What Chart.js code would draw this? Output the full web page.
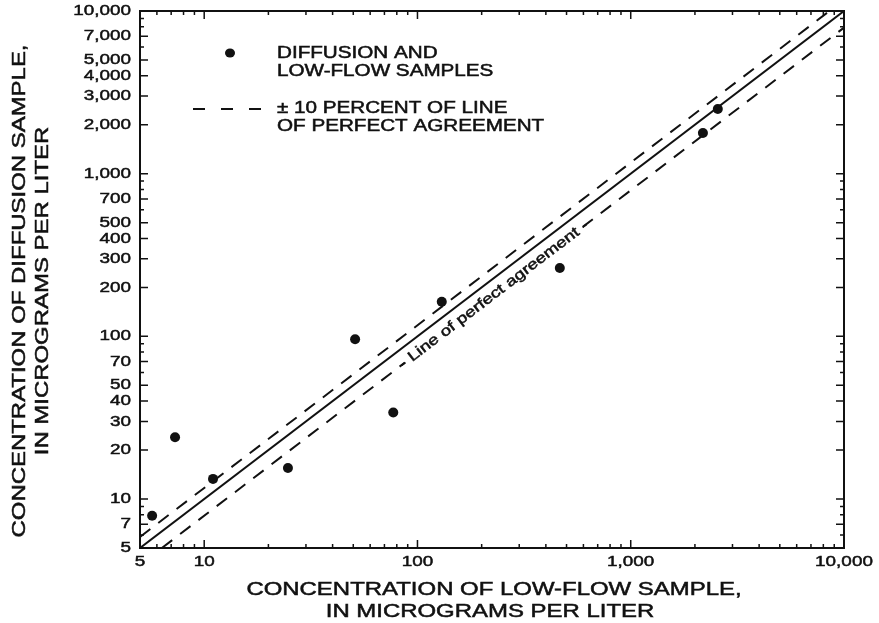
<!DOCTYPE html>
<html>
<head>
<meta charset="utf-8">
<script src="https://cdn.jsdelivr.net/npm/chart.js@4"></script>
<style>
  html, body { margin: 0; padding: 0; background: #fff; }
</style>
</head>
<body>
<canvas id="chart" width="879" height="623"></canvas>
<script>
// sample values (micrograms per liter)
const lowFlow   = [5.7, 7.3, 11, 24.7, 51, 77, 130, 465, 2180, 2560];
const diffusion = [7.9, 24, 13.3, 15.5, 96, 34, 163, 263, 1780, 2500];

// line of perfect agreement and the band drawn round it
const agreeX = [5, 10000];
const agreeY = [5, 10000];
const upperX = [5, 8550];
const upperY = [5.85, 10000];
const lowerX = [6.33, 10000];
const lowerY = [5, 7900];

const xTickLabels = [5, 10, 100, 1000, 10000];
const yTickLabels = [5, 7, 10, 20, 30, 40, 50, 70, 100, 200, 300, 400, 500, 700,
                     1000, 2000, 3000, 4000, 5000, 7000, 10000];

const FONT = '"Liberation Sans", Arial, Helvetica, sans-serif';
const INK = '#111';

const pts = (xs, ys) => xs.map((x, i) => ({ x: x, y: ys[i] }));

// every 1..9 x decade between min and max
function logTicks(scale) {
  const out = [];
  for (let d = 1; d <= 10000; d *= 10) {
    for (let n = 1; n <= 9; n++) {
      const v = n * d;
      if (v >= scale.min && v <= scale.max) out.push({ value: v });
    }
  }
  scale.ticks = out;
}

// the original lettering is wide and a bit heavy, so stretch it sideways
function wideText(ctx, str, x, y, size, sx, align, rot) {
  ctx.save();
  ctx.translate(x, y);
  if (rot) ctx.rotate(rot);
  ctx.scale(sx, 1);
  ctx.font = size + 'px ' + FONT;
  ctx.textAlign = align || 'left';
  ctx.textBaseline = 'middle';
  ctx.fillStyle = INK;
  ctx.strokeStyle = INK;
  ctx.lineWidth = 0.5;
  ctx.fillText(str, 0, 0);
  ctx.strokeText(str, 0, 0);
  ctx.restore();
}

const decorations = {
  id: 'decorations',
  afterDatasetsDraw(chart) {
    const ctx = chart.ctx;
    const xs = chart.scales.x, ys = chart.scales.y;
    const a = chart.chartArea;

    // label riding on the lower dashed line
    const lx = 228;
    const ly = lowerY[0] * Math.pow(lowerY[1] / lowerY[0], Math.log(lx / lowerX[0]) / Math.log(lowerX[1] / lowerX[0]));
    const px = xs.getPixelForValue(lx), py = ys.getPixelForValue(ly);
    const ang = Math.atan2(ys.getPixelForValue(lowerY[1]) - ys.getPixelForValue(lowerY[0]),
                           xs.getPixelForValue(lowerX[1]) - xs.getPixelForValue(lowerX[0]));
    ctx.save();
    ctx.translate(px, py);
    ctx.rotate(ang);
    ctx.fillStyle = '#fff';
    ctx.fillRect(-112, -9, 224, 18);
    ctx.restore();
    wideText(ctx, '- Line of perfect agreement -', px, py, 14.5, 1.28, 'center', ang);

    // frame
    ctx.save();
    ctx.strokeStyle = INK;
    ctx.lineWidth = 2;
    ctx.strokeRect(a.left, a.top, a.right - a.left, a.bottom - a.top);

    // inward ticks on all four sides
    ctx.lineWidth = 1.5;
    ctx.beginPath();
    xs.ticks.forEach(t => {
      const p = xs.getPixelForValue(t.value);
      const len = xTickLabels.includes(t.value) ? 8 : 4;
      ctx.moveTo(p, a.bottom); ctx.lineTo(p, a.bottom - len);
      ctx.moveTo(p, a.top); ctx.lineTo(p, a.top + len);
    });
    ys.ticks.forEach(t => {
      const p = ys.getPixelForValue(t.value);
      const len = yTickLabels.includes(t.value) ? 8 : 4;
      ctx.moveTo(a.left, p); ctx.lineTo(a.left + len, p);
      ctx.moveTo(a.right, p); ctx.lineTo(a.right - len, p);
    });
    ctx.stroke();
    ctx.restore();

    // tick labels
    xTickLabels.forEach(v => {
      wideText(ctx, v.toLocaleString('en-US'), xs.getPixelForValue(v), a.bottom + 14, 15, 1.26, 'center');
    });
    yTickLabels.forEach(v => {
      wideText(ctx, v.toLocaleString('en-US'), a.left - 9, ys.getPixelForValue(v), 15, 1.26, 'right');
    });

    // axis titles
    wideText(ctx, 'CONCENTRATION OF LOW-FLOW SAMPLE,', 494, 590, 18, 1.33, 'center');
    wideText(ctx, 'IN MICROGRAMS PER LITER', 490, 612, 18, 1.33, 'center');
    wideText(ctx, 'CONCENTRATION OF DIFFUSION SAMPLE,', 20, 291, 18, 1.33, 'center', -Math.PI / 2);
    wideText(ctx, 'IN MICROGRAMS PER LITER', 43, 291, 18, 1.33, 'center', -Math.PI / 2);

    // legend
    ctx.save();
    ctx.fillStyle = INK;
    ctx.beginPath();
    ctx.ellipse(230, 53, 5, 4.5, 0, 0, Math.PI * 2);
    ctx.fill();
    ctx.strokeStyle = INK;
    ctx.lineWidth = 2;
    ctx.setLineDash([12, 16]);
    ctx.beginPath();
    ctx.moveTo(193, 109);
    ctx.lineTo(264, 109);
    ctx.stroke();
    ctx.restore();
    wideText(ctx, 'DIFFUSION AND', 277, 54, 16, 1.29);
    wideText(ctx, 'LOW-FLOW SAMPLES', 277, 72, 16, 1.29);
    wideText(ctx, '\u00b1 10 PERCENT OF LINE', 277, 109, 16, 1.29);
    wideText(ctx, 'OF PERFECT AGREEMENT', 277, 127, 16, 1.29);
  }
};

const logAxis = (pos) => ({
  type: 'logarithmic',
  position: pos,
  min: 5,
  max: 10000,
  grid: { display: false, drawTicks: false },
  border: { display: false },
  ticks: { display: false },
  afterBuildTicks: logTicks,
  afterFit(s) { if (pos === 'left') s.width = 0; else s.height = 0; }
});

new Chart(document.getElementById('chart'), {
  type: 'scatter',
  data: {
    datasets: [
      {
        label: 'Line of perfect agreement',
        data: pts(agreeX, agreeY),
        showLine: true,
        borderColor: INK,
        borderWidth: 2,
        pointRadius: 0
      },
      {
        label: '+10 percent',
        data: pts(upperX, upperY),
        showLine: true,
        borderColor: INK,
        borderWidth: 2,
        borderDash: [13, 10],
        pointRadius: 0
      },
      {
        label: '-10 percent',
        data: pts(lowerX, lowerY),
        showLine: true,
        borderColor: INK,
        borderWidth: 2,
        borderDash: [13, 10],
        pointRadius: 0
      },
      {
        label: 'Diffusion and low-flow samples',
        data: pts(lowFlow, diffusion),
        pointRadius: 5,
        pointBackgroundColor: INK,
        pointBorderWidth: 0
      }
    ]
  },
  options: {
    responsive: false,
    animation: false,
    layout: { padding: { left: 140, right: 35, top: 11, bottom: 75 } },
    plugins: {
      legend: { display: false },
      tooltip: { enabled: false }
    },
    scales: {
      x: logAxis('bottom'),
      y: logAxis('left')
    }
  },
  plugins: [decorations]
});
</script>
</body>
</html>
